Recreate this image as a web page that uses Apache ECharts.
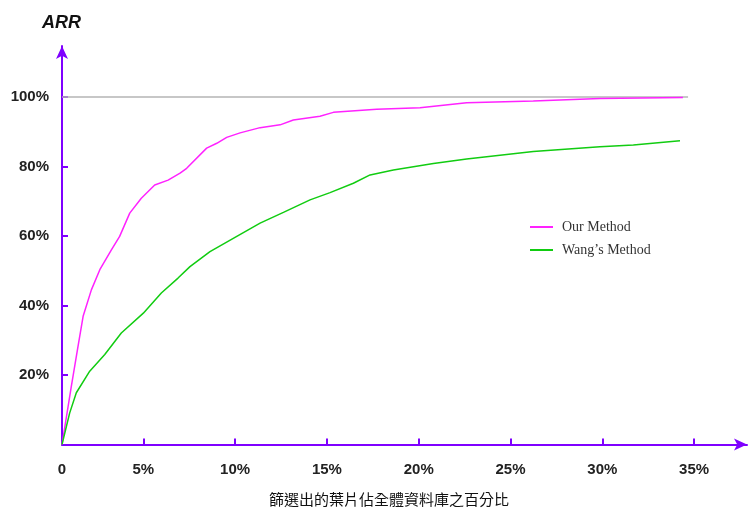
<!DOCTYPE html>
<html>
<head>
<meta charset="utf-8">
<script src="https://cdn.jsdelivr.net/npm/echarts@6/dist/echarts.min.js"></script>
<style>html,body{margin:0;padding:0;background:#fff;}#c{width:756px;height:509px;}</style>
</head>
<body>
<div id="c"></div>
<script>
// x values in percent; the plotted origin sits at 0.57 (the axis corner, labelled "0")
const xOrigin = 0.57;
const ourX = [0.57, 1.08, 1.44, 1.72, 2.17, 2.63, 3.26, 3.71, 4.26, 4.89, 5.62, 6.35, 7.00, 7.36, 8.45, 9.00, 9.54, 10.27, 11.36, 12.45, 13.17, 14.62, 15.35, 17.71, 20.07, 22.61, 26.24, 29.87, 34.39];
const ourY = [0, 16.8, 28.2, 36.9, 44.5, 50.3, 56.0, 59.9, 66.6, 70.9, 74.7, 76.1, 78.1, 79.5, 85.3, 86.7, 88.4, 89.7, 91.2, 92.0, 93.4, 94.5, 95.6, 96.5, 96.9, 98.4, 98.9, 99.6, 99.9];
const wangX = [0.57, 0.99, 1.35, 2.08, 2.90, 3.80, 5.00, 5.98, 6.89, 7.54, 8.63, 10.09, 11.36, 12.63, 14.08, 15.17, 16.44, 17.35, 18.62, 20.80, 22.61, 26.24, 29.87, 31.69, 34.23];
const wangY = [0, 9.1, 14.9, 21.1, 25.9, 32.1, 37.8, 43.6, 47.9, 51.2, 55.5, 59.9, 63.7, 66.8, 70.4, 72.5, 75.2, 77.6, 79.0, 80.9, 82.2, 84.3, 85.7, 86.2, 87.4];
const refLineX = [0.57, 34.67];
const refLineY = [100, 100];
const xTickValues = [5, 10, 15, 20, 25, 30, 35];
const xLabelValues = [0.57, 5, 10, 15, 20, 25, 30, 35];
const xLabelTexts = ['0', '5%', '10%', '15%', '20%', '25%', '30%', '35%'];
const yTickValues = [20, 40, 60, 80, 100];
const yLabelTexts = ['20%', '40%', '60%', '80%', '100%'];
const seriesNames = ['Our Method', "Wang\u2019s Method"];
const yTitle = 'ARR';
const xTitle = '篩選出的葉片佔全體資料庫之百分比';

const zip = (a, b) => a.map((v, i) => [v, b[i]]);
const axisColor = '#7f00ff';

const chart = echarts.init(document.getElementById('c'));
chart.setOption({
  backgroundColor: '#fff',
  animation: false,
  title: [
    { text: yTitle, left: 37, top: 9, textStyle: { fontFamily: 'Liberation Sans, Arial', fontSize: 18, fontWeight: 'bold', fontStyle: 'italic', color: '#111' } },
    { text: xTitle, left: 264, top: 487, textStyle: { fontFamily: 'Noto Sans CJK TC', fontSize: 15, fontWeight: 'normal', color: '#111' } }
  ],
  legend: {
    orient: 'vertical', left: 525, top: 215, itemWidth: 23, itemHeight: 2, itemGap: 9,
    icon: 'rect',
    data: seriesNames,
    textStyle: { fontFamily: 'Liberation Serif, Times New Roman', fontSize: 14, color: '#333', padding: [0, 0, 0, 4] }
  },
  grid: { left: 62, right: 9, top: 46, bottom: 64.5, containLabel: false },
  xAxis: {
    type: 'value', min: xOrigin, max: 37.88,
    splitLine: { show: false },
    axisLine: { lineStyle: { color: axisColor, width: 2 }, symbol: ['none', 'arrow'], symbolSize: [9, 13] },
    axisTick: { show: true, inside: true, length: 6, lineStyle: { color: axisColor, width: 2 }, customValues: xTickValues },
    axisLabel: {
      customValues: xLabelValues, margin: 18,
      fontFamily: 'Liberation Sans, Arial', fontSize: 15, fontWeight: 'bold', color: '#222',
      formatter: v => { const i = xLabelValues.indexOf(v); return i >= 0 ? xLabelTexts[i] : ''; }
    }
  },
  yAxis: {
    type: 'value', min: 0, max: 114.7,
    splitLine: { show: false },
    axisLine: { lineStyle: { color: axisColor, width: 2 }, symbol: ['none', 'arrow'], symbolSize: [9, 13] },
    axisTick: { show: true, inside: true, length: 6, lineStyle: { color: axisColor, width: 2 }, customValues: yTickValues },
    axisLabel: {
      customValues: yTickValues, margin: 13,
      fontFamily: 'Liberation Sans, Arial', fontSize: 15, fontWeight: 'bold', color: '#222',
      formatter: v => { const i = yTickValues.indexOf(v); return i >= 0 ? yLabelTexts[i] : ''; }
    }
  },
  series: [
    { name: 'ref', type: 'line', data: zip(refLineX, refLineY), showSymbol: false, silent: true, z: 1,
      lineStyle: { color: '#b4b4b4', width: 1.5 }, itemStyle: { color: '#b4b4b4' } },
    { name: seriesNames[0], type: 'line', data: zip(ourX, ourY), showSymbol: false, z: 3,
      lineStyle: { color: '#ff22ff', width: 1.5 }, itemStyle: { color: '#ff22ff' } },
    { name: seriesNames[1], type: 'line', data: zip(wangX, wangY), showSymbol: false, z: 3,
      lineStyle: { color: '#11cc11', width: 1.5 }, itemStyle: { color: '#11cc11' } }
  ]
});
</script>
</body>
</html>
